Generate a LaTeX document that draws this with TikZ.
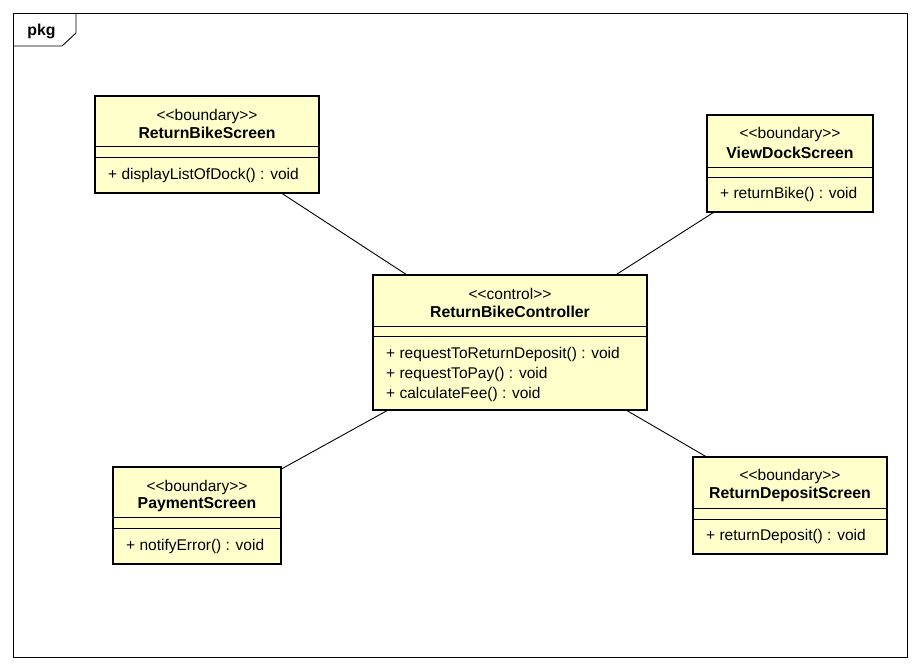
\documentclass[tikz,border=0pt]{standalone}
\usepackage{fontspec}
\setmainfont{Liberation Sans}
\usetikzlibrary{positioning}

\definecolor{classfill}{RGB}{255,255,204}

\tikzset{
  classbox/.style={draw, line width=2.6pt, fill=classfill, inner sep=0pt, outer sep=0pt},
  stereo/.style={font=\fontsize{15.5}{17}\selectfont, inner sep=0pt},
  classname/.style={font=\fontsize{15.8}{17}\selectfont\bfseries, inner sep=0pt},
  member/.style={font=\fontsize{15.5}{20}\selectfont, inner sep=0pt, align=left, anchor=north west},
  sepline/.style={line width=0.9pt},
  assoc/.style={line width=0.9pt},
}

\begin{document}
\begin{tikzpicture}[x=1pt,y=-1pt]
\useasboundingbox (0,0) rectangle (918,669);
% package frame
\draw[line width=0.9pt] (13,13) rectangle (907,657);
\draw[line width=0.9pt] (13,46) -- (62,46) -- (76,33) -- (76,13);
\node[classname] (pkg) at (41.5,31) {pkg};

% classes
\node[classbox, minimum width=224pt, minimum height=97pt] (rbs) at (207,144.5) {};
\node[classbox, minimum width=166pt, minimum height=97pt] (vds) at (790,163.5) {};
\node[classbox, minimum width=274pt, minimum height=135pt] (ctrl) at (510,342.5) {};
\node[classbox, minimum width=168pt, minimum height=97pt] (pay) at (197,515.5) {};
\node[classbox, minimum width=194pt, minimum height=97pt] (rds) at (790,505.5) {};

% ReturnBikeScreen
\node[stereo] (rbsStereo) at ([yshift=-20pt]rbs.north) {<{}<boundary>{}>};
\node[classname] (rbsName) at ([yshift=-37pt]rbs.north) {ReturnBikeScreen};
\draw[sepline] ([yshift=-50pt]rbs.north west) -- ([yshift=-50pt]rbs.north east);
\draw[sepline] ([yshift=-61pt]rbs.north west) -- ([yshift=-61pt]rbs.north east);
\node[member] (rbsOps) at ([xshift=13pt,yshift=-72pt]rbs.north west) {+ displayListOfDock() : void};

% ViewDockScreen
\node[stereo] (vdsStereo) at ([yshift=-19pt]vds.north) {<{}<boundary>{}>};
\node[classname] (vdsName) at ([yshift=-38pt]vds.north) {ViewDockScreen};
\draw[sepline] ([yshift=-52pt]vds.north west) -- ([yshift=-52pt]vds.north east);
\draw[sepline] ([yshift=-62pt]vds.north west) -- ([yshift=-62pt]vds.north east);
\node[member] (vdsOps) at ([xshift=13pt,yshift=-72pt]vds.north west) {+ returnBike() : void};

% ReturnBikeController
\node[stereo] (ctrlStereo) at ([yshift=-19pt]ctrl.north) {<{}<control>{}>};
\node[classname] (ctrlName) at ([yshift=-37pt]ctrl.north) {ReturnBikeController};
\draw[sepline] ([yshift=-51pt]ctrl.north west) -- ([yshift=-51pt]ctrl.north east);
\draw[sepline] ([yshift=-61pt]ctrl.north west) -- ([yshift=-61pt]ctrl.north east);
\node[member] (ctrlOps) at ([xshift=13pt,yshift=-72pt]ctrl.north west)
  {+ requestToReturnDeposit() : void\\+ requestToPay() : void\\+ calculateFee() : void};

% PaymentScreen
\node[stereo] (payStereo) at ([yshift=-20pt]pay.north) {<{}<boundary>{}>};
\node[classname] (payName) at ([yshift=-38pt]pay.north) {PaymentScreen};
\draw[sepline] ([yshift=-50pt]pay.north west) -- ([yshift=-50pt]pay.north east);
\draw[sepline] ([yshift=-61pt]pay.north west) -- ([yshift=-61pt]pay.north east);
\node[member] (payOps) at ([xshift=13pt,yshift=-72pt]pay.north west) {+ notifyError() : void};

% ReturnDepositScreen
\node[stereo] (rdsStereo) at ([yshift=-19pt]rds.north) {<{}<boundary>{}>};
\node[classname] (rdsName) at ([yshift=-37pt]rds.north) {ReturnDepositScreen};
\draw[sepline] ([yshift=-51pt]rds.north west) -- ([yshift=-51pt]rds.north east);
\draw[sepline] ([yshift=-62pt]rds.north west) -- ([yshift=-62pt]rds.north east);
\node[member] (rdsOps) at ([xshift=13pt,yshift=-72pt]rds.north west) {+ returnDeposit() : void};

% associations
\draw[assoc] (rbs) -- (ctrl);
\draw[assoc] (vds) -- (ctrl);
\draw[assoc] (pay) -- (ctrl);
\draw[assoc] (rds) -- (ctrl);
\end{tikzpicture}
\end{document}
